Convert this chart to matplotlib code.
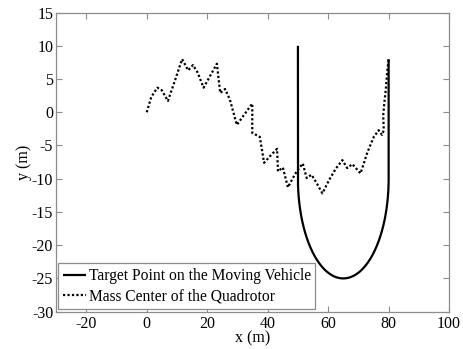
import numpy as np
import matplotlib
matplotlib.use("Agg")
import matplotlib.pyplot as plt

plt.rcParams['font.family'] = ['Liberation Serif', 'DejaVu Serif']
plt.rcParams['axes.unicode_minus'] = False

# Quadrotor mass-center trajectory (x, y in m)
quad_x = [0.0, 1.5, 3.5, 5.0, 7.0, 9.5, 11.7, 13.7, 15.3, 16.8, 18.8, 21.0, 23.2, 24.3,
          25.9, 27.5, 29.8, 32.0, 34.9, 34.9, 37.4, 38.8, 41.0, 43.1, 43.4, 45.0, 46.7,
          48.2, 49.6, 51.6, 52.9, 54.5, 56.0, 58.1, 60.3, 62.5, 64.7, 66.3, 68.0, 70.7,
          73.0, 75.1, 76.7, 77.8, 78.4, 78.2, 78.6, 79.1, 79.5, 80.0]
quad_y = [0.0, 2.3, 3.7, 3.3, 1.7, 5.0, 8.0, 6.3, 7.1, 6.0, 3.7, 5.5, 7.3, 2.9,
          3.5, 1.9, -1.9, -0.5, 1.3, -3.1, -3.7, -7.6, -6.5, -5.5, -8.9, -8.3, -11.3,
          -10.0, -8.9, -7.7, -9.9, -9.4, -10.5, -12.2, -10.2, -8.5, -7.2, -8.4, -7.8, -9.2,
          -6.0, -3.7, -2.7, -3.4, -2.7, -0.5, 1.5, 3.6, 6.0, 8.0]

# Target point path: straight leg, half-circle turn, straight leg
leg1_x = [50, 50]
leg1_y = [10, -10]
turn_center = (65, -10)
turn_radius = 15
leg2_x = [80, 80]
leg2_y = [-10, 8]

theta = np.linspace(np.pi, 2 * np.pi, 200)
turn_x = turn_center[0] + turn_radius * np.cos(theta)
turn_y = turn_center[1] + turn_radius * np.sin(theta)
target_x = np.concatenate([leg1_x, turn_x, leg2_x])
target_y = np.concatenate([leg1_y, turn_y, leg2_y])

x_ticks = [-20, 0, 20, 40, 60, 80, 100]
y_ticks = [-30, -25, -20, -15, -10, -5, 0, 5, 10, 15]

fig = plt.figure(figsize=(4.63, 3.49), dpi=100)
ax = fig.add_axes([0.121, 0.107, 0.849, 0.857])

ax.plot(target_x, target_y, color='black', lw=1.6, solid_capstyle='butt',
        label='Target Point on the Moving Vehicle')
ax.plot(quad_x, quad_y, color='black', lw=1.6, linestyle=(0, (1, 1)),
        label='Mass Center of the Quadrotor')

ax.set_xlim(-30, 100)
ax.set_ylim(-30, 15)
ax.set_xticks(x_ticks)
ax.set_yticks(y_ticks)
ax.tick_params(direction='in', top=True, right=True, length=4, width=0.8,
               color='#8c8c8c', labelsize=11.5, labelcolor='black')
ax.tick_params(axis='x', pad=3)
ax.tick_params(axis='y', pad=2)
for s in ax.spines.values():
    s.set_color('#8c8c8c')
    s.set_linewidth(0.9)

ax.set_xlabel('x (m)', fontsize=11.5, labelpad=-1)
ax.set_ylabel('y (m)', fontsize=11.5, labelpad=0)

leg = ax.legend(loc='lower left', fontsize=11.2, handlelength=1.5, handletextpad=0.15,
                borderpad=0.3, labelspacing=0.3, borderaxespad=0.15, fancybox=False,
                framealpha=1, edgecolor='#8c8c8c')
leg.get_frame().set_linewidth(0.9)

fig.savefig('out.png', dpi=100)
